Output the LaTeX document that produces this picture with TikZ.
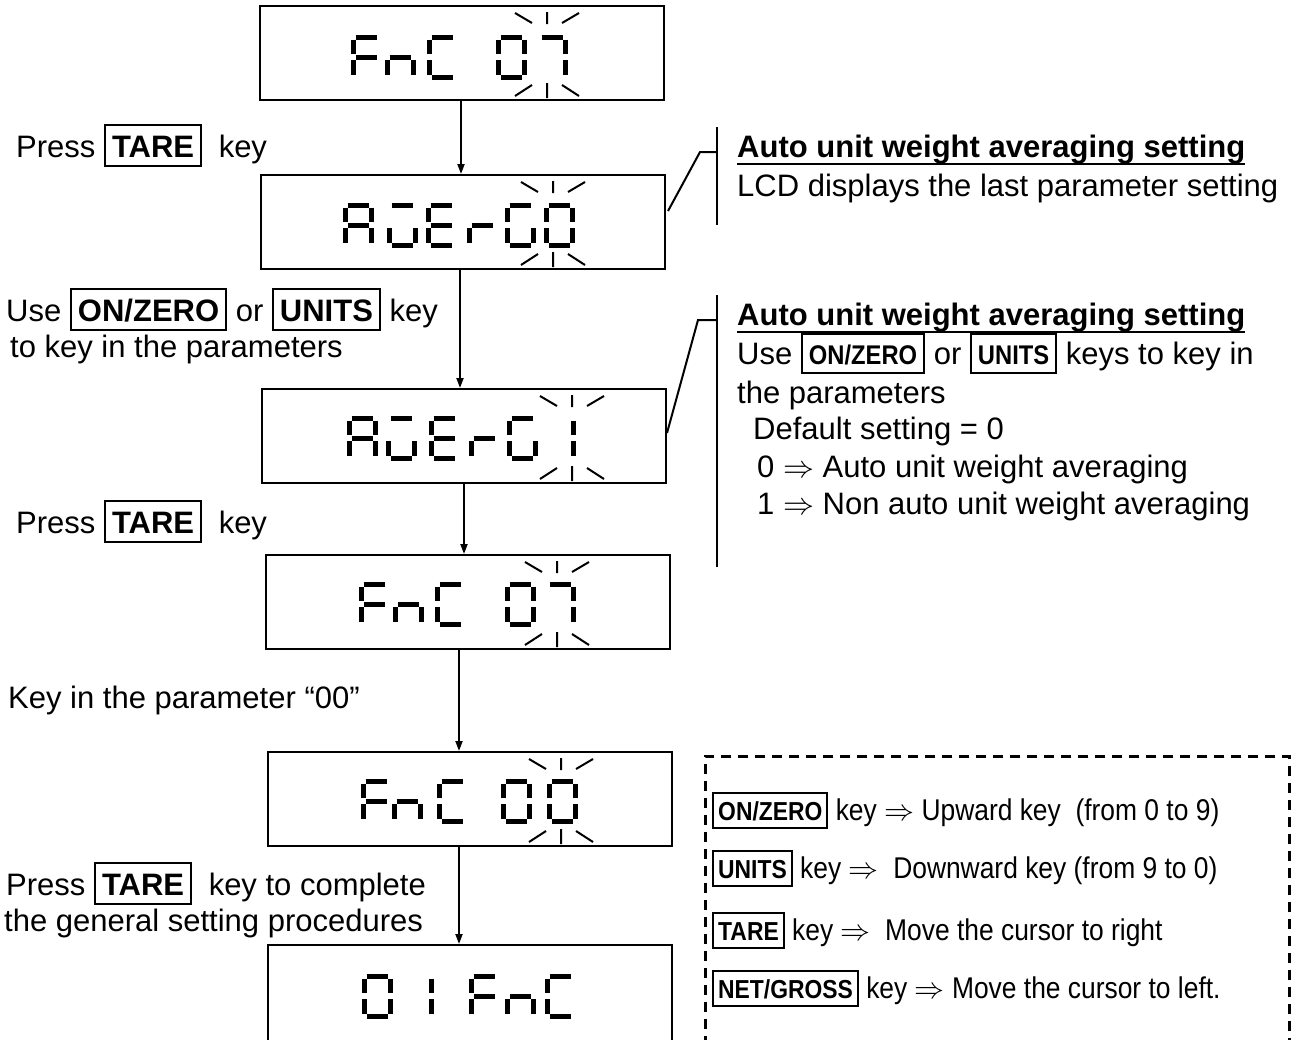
\RequirePackage{fix-cm}
\documentclass[tikz,border=0pt]{standalone}
\usepackage{fontspec}
\setmainfont{Liberation Sans}
\newfontfamily\narrowsf[FakeStretch=0.88]{Liberation Sans}
\usetikzlibrary{arrows.meta,calc}

% framed key names
\newcommand{\keyb}[1]{{\setlength{\fboxsep}{0pt}\setlength{\fboxrule}{2pt}%
  \fbox{\rule[-8pt]{0pt}{39pt}\kern6pt\textbf{#1}\kern6pt}}}
\newcommand{\skey}[1]{{\setlength{\fboxsep}{0pt}\setlength{\fboxrule}{2pt}%
  \fbox{\rule[-8pt]{0pt}{37pt}\kern6pt{\narrowsf\bfseries\fontsize{27}{30}\selectfont #1}\kern6pt}}}
\newcommand{\lkey}[1]{{\setlength{\fboxsep}{0pt}\setlength{\fboxrule}{2pt}%
  \fbox{\rule[-7pt]{0pt}{33pt}\kern4pt{\narrowsf\bfseries\fontsize{26}{30}\selectfont #1}\kern4pt}}}

% seven segment readout: a=0 b=1 c=2 d=3 e=4 f=5 g=6
\newcommand{\drawseg}[1]{%
  \ifcase#1
    \draw[seg] (-10.5,-20) -- (10.5,-20);%
  \or \draw[seg] (13,-17.5) -- (13,-3);%
  \or \draw[seg] (13,3) -- (13,17.5);%
  \or \draw[seg] (-10.5,20) -- (10.5,20);%
  \or \draw[seg] (-13,3) -- (-13,17.5);%
  \or \draw[seg] (-13,-17.5) -- (-13,-3);%
  \or \draw[seg] (-10.5,0) -- (10.5,0);%
  \fi}
\def\chF{0,5,4,6}
\def\chn{2,4,6}
\def\chC{0,5,4,3}
\def\chA{0,1,2,4,5,6}
\def\chU{0,2,3,4}
\def\chE{0,3,4,5,6}
\def\chr{4,6}
\def\chG{0,2,3,4,5}
\expandafter\def\csname ch0\endcsname{0,1,2,3,4,5}
\expandafter\def\csname ch1\endcsname{1,2}
\expandafter\def\csname ch7\endcsname{0,1,2}
\newcommand{\lcdchar}[3]{%
  \begin{scope}[shift={(#1,#2)}]
    \expandafter\let\expandafter\seglist\csname ch#3\endcsname
    \foreach \s in \seglist {\drawseg{\s}}
  \end{scope}}
% flashing digit marks
\newcommand{\blink}[2]{%
  \begin{scope}[shift={(#1,#2)}]
    \draw[blinkline] (0,-41) -- (0,-29) (-32,-40) -- (-15,-30) (15,-30) -- (32,-40);
    \draw[blinkline] (0,30) -- (0,45) (-32,43) -- (-15,32) (15,32) -- (32,43);
  \end{scope}}

\begin{document}
\begin{tikzpicture}[x=1pt, y=-1pt,
  lcd/.style={draw, line width=2pt, minimum width=404pt, minimum height=94pt, inner sep=0pt},
  seg/.style={line width=5pt},
  blinkline/.style={line width=2pt},
  flow/.style={line width=2pt, -{Triangle[length=10pt,width=7pt]}},
  lead/.style={line width=2pt},
  txt/.style={inner sep=0pt, anchor=base west, font=\fontsize{31}{37}\selectfont},
  head/.style={txt, font=\fontsize{31}{37}\selectfont\bfseries},
  legtxt/.style={inner sep=0pt, anchor=base west, font=\narrowsf\fontsize{30}{36}\selectfont},
  keyframe/.style={draw, line width=2.5pt, dash pattern=on 10pt off 7pt,
    minimum width=584pt, minimum height=320pt, inner sep=0pt}
]
  \useasboundingbox (0,0) rectangle (1309,1039);
  \clip (0,0) rectangle (1309,1039);

  % displays
  \node[lcd] (disp1) at (462,53) {};
  \node[lcd] (disp2) at (463,222) {};
  \node[lcd] (disp3) at (464,436) {};
  \node[lcd] (disp4) at (468,602) {};
  \node[lcd] (disp5) at (470,799) {};
  \node[lcd, minimum height=130pt] (disp6) at (470,1010) {};

  \foreach \px/\glyph in {366/F,400/n,442/C,511/0,552/7} {\lcdchar{\px}{57}{\glyph}}
  \foreach \px/\glyph in {358/A,402/U,441/E,482/r,520/G,559/0} {\lcdchar{\px}{225}{\glyph}}
  \foreach \px/\glyph in {362/A,401/U,444/E,484/r,522/G,560/1} {\lcdchar{\px}{438}{\glyph}}
  \foreach \px/\glyph in {374/F,408/n,450/C,520/0,560/7} {\lcdchar{\px}{604}{\glyph}}
  \foreach \px/\glyph in {376/F,407/n,452/C,516/0,562/0} {\lcdchar{\px}{801}{\glyph}}
  \foreach \px/\glyph in {377/0,418/1,484/F,520/n,560/C} {\lcdchar{\px}{996}{\glyph}}

  \blink{547}{53}
  \blink{553}{222}
  \blink{572}{436}
  \blink{557}{602}
  \blink{561}{799}

  \draw[flow] ([xshift=-1pt]disp1.south) -- ([xshift=-2pt]disp2.north);
  \draw[flow] ([xshift=-3pt]disp2.south) -- ([xshift=-4pt]disp3.north);
  \draw[flow] (disp3.south) -- ([xshift=-4pt]disp4.north);
  \draw[flow] ([xshift=-9pt]disp4.south) -- ([xshift=-11pt]disp5.north);
  \draw[flow] ([xshift=-11pt]disp5.south) -- ([xshift=-11pt]disp6.north);

  % left instructions
  \node[txt] (press1) at (16,157) {Press \keyb{TARE}\hspace{8pt} key};
  \node[txt] (usekeys) at (6,321) {Use \keyb{ON/ZERO} or \keyb{UNITS} key};
  \node[txt] (usekeys2) at (10,357) {to key in the parameters};
  \node[txt] (press2) at (16,533) {Press \keyb{TARE}\hspace{8pt} key};
  \node[txt] (keyin) at (8,708) {Key in the parameter “00”};
  \node[txt] (press3) at (6,895) {Press \keyb{TARE}\hspace{8pt} key to complete};
  \node[txt] (general) at (4,931) {the general setting procedures};

  % notes on the right
  \coordinate (knee1) at (700,152);
  \coordinate (bar1top) at (717,127);
  \coordinate (bar1bot) at (717,225);
  \draw[lead] ([xshift=2pt,yshift=11pt]disp2.east) -- (knee1) -- (knee1 -| bar1top);
  \draw[lead] (bar1top) -- (bar1bot);
  \coordinate (knee2) at (698,320);
  \coordinate (bar2top) at (717,295);
  \coordinate (bar2bot) at (717,567);
  \draw[lead] ([yshift=3pt]disp3.east) -- (knee2) -- (knee2 -| bar2top);
  \draw[lead] (bar2top) -- (bar2bot);

  \node[head] (avg1) at (737,157) {Auto unit weight averaging setting};
  \draw[line width=2.5pt] (avg1.south west) -- (avg1.south east);
  \node[txt] (lastset) at (737,196) {LCD displays the last parameter setting};

  \node[head] (avg2) at (737,325) {Auto unit weight averaging setting};
  \draw[line width=2.5pt] (avg2.south west) -- (avg2.south east);
  \node[txt] (note1) at (737,364) {Use \skey{ON/ZERO} or \skey{UNITS} keys to key in};
  \node[txt] (note2) at (737,403) {the parameters};
  \node[txt] (note3) at (753,439) {Default setting = 0};
  \node[txt] (note4) at (757,477) {0 $\Rightarrow$ Auto unit weight averaging};
  \node[txt] (note5) at (757,514) {1 $\Rightarrow$ Non auto unit weight averaging};

  % key legend
  \node[keyframe, anchor=north west] (legend) at (704,755) {};
  \node[legtxt] (leg1) at (712,820) {\lkey{ON/ZERO} key $\Rightarrow$ Upward key\ \ (from 0 to 9)};
  \node[legtxt] (leg2) at (712,878) {\lkey{UNITS} key $\Rightarrow$\ \ Downward key (from 9 to 0)};
  \node[legtxt] (leg3) at (712,940) {\lkey{TARE} key $\Rightarrow$\ \ Move the cursor to right};
  \node[legtxt] (leg4) at (712,998) {\lkey{NET/GROSS} key $\Rightarrow$ Move the cursor to left.};
\end{tikzpicture}
\end{document}
